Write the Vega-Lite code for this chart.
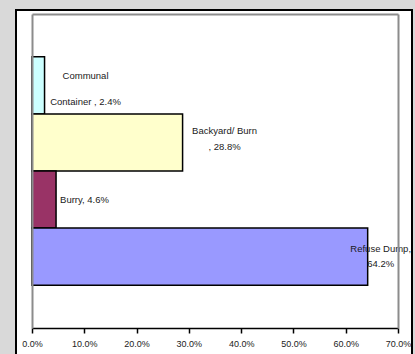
{
  "$schema": "https://vega.github.io/schema/vega-lite/v6.json",
  "width": 366,
  "height": 314,
  "autosize": {"type": "none"},
  "padding": {"left": 32, "top": 14, "right": 17, "bottom": 26},
  "background": "#d9d9d9",
  "config": {
    "view": {"stroke": null, "fill": null},
    "font": "Liberation Sans",
    "text": {"font": "Liberation Sans", "fontSize": 9.5, "color": "#1a1a1a"},
    "axis": {"zindex": 1}
  },
  "data": {
    "values": [
      {"series": "Communal Container", "share": 0.024, "label": ["Communal", "Container , 2.4%"]},
      {"series": "Backyard/ Burn", "share": 0.288, "label": ["Backyard/ Burn", ", 28.8%"]},
      {"series": "Burry", "share": 0.046, "label": ["Burry, 4.6%"]},
      {"series": "Refuse Dump", "share": 0.642, "label": ["Refuse Dump,", "64.2%"]}
    ]
  },
  "encoding": {
    "y": {
      "field": "series",
      "type": "nominal",
      "sort": ["Communal Container", "Backyard/ Burn", "Burry", "Refuse Dump"],
      "scale": {"paddingInner": 0, "paddingOuter": 0.75},
      "axis": null
    },
    "x": {
      "field": "share",
      "type": "quantitative",
      "scale": {"domain": [0, 0.7], "nice": false, "zero": true},
      "axis": null
    }
  },
  "layer": [
    {
      "data": {"values": [{}]},
      "mark": {
        "type": "rect",
        "x": -16,
        "x2": {"expr": "width + 14"},
        "y": -4,
        "y2": {"expr": "height + 40"},
        "fill": "white",
        "stroke": "black",
        "strokeWidth": 2
      },
      "encoding": {"x": null, "y": null}
    },
    {
      "mark": {"type": "bar", "stroke": "black", "strokeWidth": 1.5},
      "encoding": {
        "color": {
          "field": "series",
          "type": "nominal",
          "scale": {
            "domain": ["Communal Container", "Backyard/ Burn", "Burry", "Refuse Dump"],
            "range": ["#ccffff", "#ffffcc", "#993366", "#9999ff"]
          },
          "legend": null
        },
        "x": {
          "field": "share",
          "type": "quantitative",
          "axis": {
            "orient": "bottom",
            "zindex": 1,
            "values": [0, 0.1, 0.2, 0.3, 0.4, 0.5, 0.6, 0.7],
            "format": ".1%",
            "grid": false,
            "domainColor": "black",
            "domainWidth": 1.5,
            "tickColor": "black",
            "tickWidth": 1.5,
            "tickSize": 5,
            "labelFont": "Liberation Sans",
            "labelFontSize": 9,
            "labelColor": "#222222",
            "labelPadding": 6,
            "labelFlush": false,
            "title": null
          }
        },
        "y": {
          "field": "series",
          "type": "nominal",
          "axis": {
            "orient": "left",
            "zindex": 1,
            "labels": false,
            "ticks": false,
            "grid": false,
            "domainColor": "#8c8c8c",
            "domainWidth": 2,
            "title": null
          }
        }
      }
    },
    {
      "mark": {"type": "bar", "opacity": 0},
      "encoding": {
        "x": {
          "field": "share",
          "type": "quantitative",
          "axis": {
            "orient": "top",
            "zindex": 1,
            "labels": false,
            "ticks": false,
            "grid": false,
            "domainColor": "#8c8c8c",
            "domainWidth": 2,
            "title": null
          }
        },
        "y": {
          "field": "series",
          "type": "nominal",
          "axis": {
            "orient": "right",
            "zindex": 1,
            "labels": false,
            "ticks": false,
            "grid": false,
            "domainColor": "#8c8c8c",
            "domainWidth": 2,
            "title": null
          }
        }
      }
    },
    {
      "transform": [{"filter": "datum.series === 'Communal Container'"}],
      "mark": {"type": "text", "align": "center", "dx": 41, "dy": -9.5, "lineHeight": 26},
      "encoding": {"text": {"field": "label"}}
    },
    {
      "transform": [{"filter": "datum.series === 'Backyard/ Burn'"}],
      "mark": {"type": "text", "align": "center", "dx": 42, "dy": -11, "lineHeight": 16},
      "encoding": {"text": {"field": "label"}}
    },
    {
      "transform": [{"filter": "datum.series === 'Burry'"}],
      "mark": {"type": "text", "align": "left", "dx": 4, "dy": 0},
      "encoding": {"text": {"field": "label"}}
    },
    {
      "transform": [{"filter": "datum.series === 'Refuse Dump'"}],
      "mark": {"type": "text", "align": "center", "dx": 13, "dy": -8, "lineHeight": 15},
      "encoding": {"text": {"field": "label"}}
    }
  ],
  "resolve": {"axis": {"x": "independent", "y": "independent"}}
}
